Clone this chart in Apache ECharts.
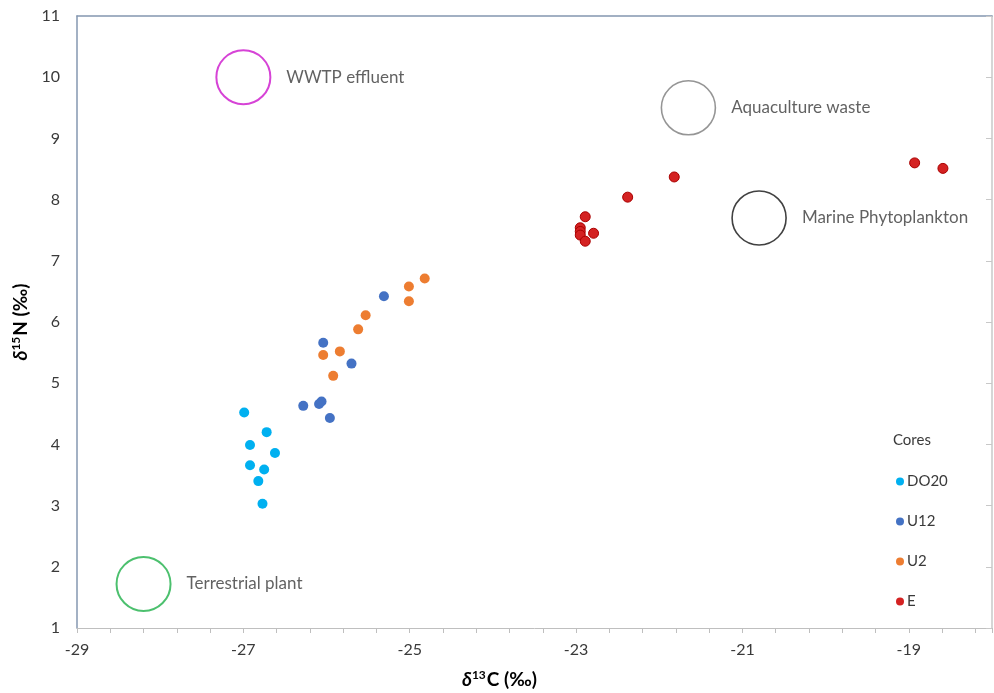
<!DOCTYPE html>
<html>
<head>
<meta charset="utf-8">
<script src="https://cdn.jsdelivr.net/npm/echarts@6/dist/echarts.min.js"></script>
<style>
html,body{margin:0;padding:0;background:#fff;}
#chart{width:994px;height:693px;}
</style>
</head>
<body>
<div id="chart"></div>
<script>
// ---- data ----
const seriesNames = ['DO20', 'U12', 'U2', 'E'];
const do20X = [-26.99, -26.72, -26.92, -26.62, -26.92, -26.75, -26.82, -26.77];
const do20Y = [4.52, 4.20, 3.99, 3.86, 3.66, 3.59, 3.40, 3.03];
const u12X = [-25.31, -26.04, -25.70, -26.28, -26.09, -26.06, -25.96];
const u12Y = [6.42, 5.66, 5.32, 4.63, 4.66, 4.70, 4.43];
const u2X = [-24.82, -25.01, -25.01, -25.53, -25.62, -25.84, -26.04, -25.92];
const u2Y = [6.71, 6.58, 6.34, 6.11, 5.88, 5.52, 5.46, 5.12];
const eX = [-21.82, -22.38, -22.89, -22.95, -22.95, -22.95, -22.79, -22.89, -18.93, -18.59];
const eY = [8.37, 8.04, 7.72, 7.54, 7.48, 7.42, 7.45, 7.32, 8.60, 8.51];
const sourceNames = ['WWTP effluent', 'Aquaculture waste', 'Marine Phytoplankton', 'Terrestrial plant'];
const sourceX = [-27.0, -21.65, -20.8, -28.2];
const sourceY = [10.0, 9.5, 7.7, 1.72];
const xTickLabels = ['-29', '-27', '-25', '-23', '-21', '-19'];
const legendTitle = 'Cores';

// ---- styles ----
const seriesColors = ['#00b0f0', '#4472c4', '#ed7d31', '#d42222'];
const sourceColors = ['#cc14cc', '#7a7a7a', '#111111', '#1fb04a'];
const sourceWidths = [2, 1.6, 1.6, 2];
const FONT = 'Lato, "Liberation Sans", sans-serif';

function pairs(xs, ys) { return xs.map((x, i) => [x, ys[i]]); }
const pointSets = [pairs(do20X, do20Y), pairs(u12X, u12Y), pairs(u2X, u2Y), pairs(eX, eY)];

const series = pointSets.map((pts, i) => ({
  name: seriesNames[i],
  type: 'scatter',
  data: pts,
  symbolSize: 10,
  itemStyle: i === 3
    ? { color: seriesColors[i], borderColor: '#aa0000', borderWidth: 1, opacity: 1 }
    : { color: seriesColors[i], opacity: 1 },
  z: 3
}));

series.push({
  name: 'Sources',
  type: 'scatter',
  symbol: 'circle',
  symbolSize: 54,
  data: sourceNames.map((n, i) => ({
    name: n,
    value: [sourceX[i], sourceY[i]],
    itemStyle: { color: 'rgba(0,0,0,0)', borderColor: sourceColors[i], borderWidth: sourceWidths[i] }
  })),
  label: {
    show: true,
    position: 'right',
    distance: 15,
    formatter: p => p.name,
    color: '#3a3a3a',
    fontSize: 17,
    fontFamily: FONT
  },
  emphasis: { disabled: true },
  silent: true,
  z: 2
});

const titleRich = {
  d: { fontStyle: 'italic', fontWeight: 'bold', fontSize: 19, fontFamily: FONT, color: '#000', fill: '#000' },
  s: { fontWeight: 'bold', fontSize: 12, fontFamily: FONT, color: '#000', fill: '#000', verticalAlign: 'top', padding: [0, 1, 9, 0] },
  b: { fontWeight: 'bold', fontSize: 19, fontFamily: FONT, color: '#000', fill: '#000' }
};

const chart = echarts.init(document.getElementById('chart'), null, { renderer: 'canvas' });
chart.setOption({
  animation: false,
  backgroundColor: '#ffffff',
  grid: { left: 77, right: 2, top: 16, bottom: 65, containLabel: false },
  legend: {
    data: seriesNames,
    orient: 'vertical',
    left: 891,
    top: 469,
    icon: 'circle',
    itemWidth: 8,
    itemHeight: 8,
    itemGap: 25,
    itemStyle: { borderWidth: 0 },
    textStyle: { color: '#3a3a3a', fontSize: 15, fontFamily: FONT, padding: [0, 0, 0, -2] },
    selectedMode: false
  },
  graphic: [
    { type: 'text', left: 893, top: 433, style: { text: legendTitle, fill: '#3a3a3a', font: '15px ' + FONT } },
    {
      type: 'text', left: 462, top: 669,
      style: { text: '{d|δ}{s|13}{b|C (‰)}', rich: titleRich }
    }
  ],
  xAxis: [{
    type: 'value',
    min: -29, max: -18, interval: 2,
    axisLine: { show: true, onZero: false, lineStyle: { color: '#bfbfbf', width: 1 } },
    axisTick: { show: true, inside: false, length: 5, lineStyle: { color: '#bfbfbf' } },
    minorTick: { show: true, splitNumber: 5, length: 5, lineStyle: { color: '#bfbfbf' } },
    splitLine: { show: false },
    axisLabel: {
      margin: 14, color: '#3a3a3a', fontSize: 16, fontFamily: FONT,
      showMaxLabel: false,
      formatter: v => { const s = String(Math.round(v)); return xTickLabels.indexOf(s) >= 0 ? s : ''; }
    }
  }, {
    type: 'value', position: 'top',
    min: -29, max: -18,
    axisLine: { show: true, onZero: false, lineStyle: { color: '#8497b0', width: 1.5 } },
    axisTick: { show: false }, axisLabel: { show: false }, splitLine: { show: false }
  }],
  yAxis: [{
    type: 'value',
    min: 1, max: 11, interval: 1,
    name: '{d|δ}{s|15}{b|N (‰)}',
    nameLocation: 'middle',
    nameGap: 38,
    nameTextStyle: { rich: titleRich },
    axisLine: { show: true, onZero: false, lineStyle: { color: '#8497b0', width: 1.5 } },
    axisTick: { show: false },
    splitLine: { show: false },
    axisLabel: { margin: 17, color: '#3a3a3a', fontSize: 16, fontFamily: FONT }
  }, {
    type: 'value', position: 'right',
    min: 1, max: 11, interval: 1,
    axisLine: { show: true, onZero: false, lineStyle: { color: '#c8c8c8', width: 1.5 } },
    axisTick: { show: true, inside: true, length: 6, lineStyle: { color: '#c8c8c8' } },
    axisLabel: { show: false }, splitLine: { show: false }
  }],
  series: series
});
</script>
</body>
</html>
